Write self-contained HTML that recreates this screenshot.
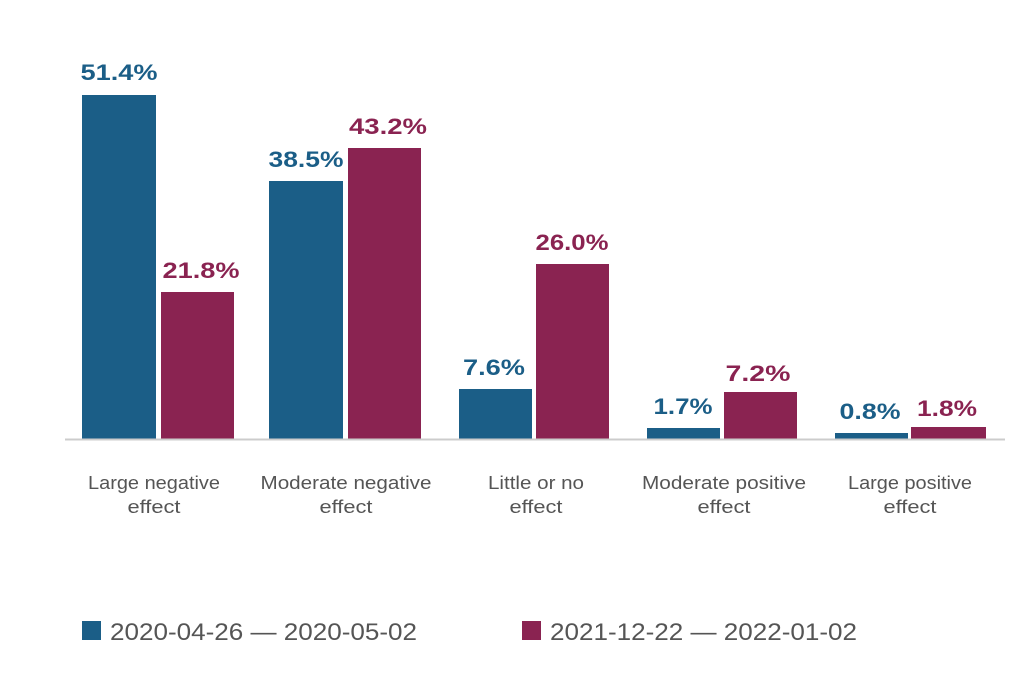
<!DOCTYPE html>
<html><head><style>
body{margin:0;background:#fff;}
svg text{font-family:"Liberation Sans",sans-serif;}
</style></head><body>
<svg width="1024" height="679" viewBox="0 0 1024 679">
<rect width="1024" height="679" fill="#fff"/>
<g fill="#1b5e87">
<rect x="82" y="95" width="74" height="344"/>
<rect x="269" y="181" width="74" height="258"/>
<rect x="459" y="389" width="73" height="50"/>
<rect x="647" y="428" width="73" height="11"/>
<rect x="835" y="433" width="73" height="6"/>
</g>
<g fill="#8a2351">
<rect x="161" y="292" width="73" height="147"/>
<rect x="348" y="148" width="73" height="291"/>
<rect x="536" y="264" width="73" height="175"/>
<rect x="724" y="392" width="73" height="47"/>
<rect x="911" y="427" width="75" height="12"/>
</g>
<line x1="65" y1="439.5" x2="1005" y2="439.5" stroke="#ccc" stroke-width="2"/>
<g font-size="22" font-weight="bold" text-anchor="middle" fill="#1b5e87" lengthAdjust="spacingAndGlyphs">
<text x="119" y="80" textLength="77" lengthAdjust="spacingAndGlyphs">51.4%</text>
<text x="306" y="167" textLength="75" lengthAdjust="spacingAndGlyphs">38.5%</text>
<text x="494" y="375" textLength="62" lengthAdjust="spacingAndGlyphs">7.6%</text>
<text x="683" y="414" textLength="59" lengthAdjust="spacingAndGlyphs">1.7%</text>
<text x="870" y="419" textLength="61" lengthAdjust="spacingAndGlyphs">0.8%</text>
</g>
<g font-size="22" font-weight="bold" text-anchor="middle" fill="#8a2351">
<text x="201" y="278" textLength="77" lengthAdjust="spacingAndGlyphs">21.8%</text>
<text x="388" y="134" textLength="78" lengthAdjust="spacingAndGlyphs">43.2%</text>
<text x="572" y="250" textLength="73" lengthAdjust="spacingAndGlyphs">26.0%</text>
<text x="758" y="381" textLength="65" lengthAdjust="spacingAndGlyphs">7.2%</text>
<text x="947" y="416" textLength="60" lengthAdjust="spacingAndGlyphs">1.8%</text>
</g>
<g font-size="18" text-anchor="middle" fill="#555">
<text x="154" y="489" textLength="132" lengthAdjust="spacingAndGlyphs">Large negative</text><text x="154" y="513" textLength="53" lengthAdjust="spacingAndGlyphs">effect</text>
<text x="346" y="489" textLength="171" lengthAdjust="spacingAndGlyphs">Moderate negative</text><text x="346" y="513" textLength="53" lengthAdjust="spacingAndGlyphs">effect</text>
<text x="536" y="489" textLength="96" lengthAdjust="spacingAndGlyphs">Little or no</text><text x="536" y="513" textLength="53" lengthAdjust="spacingAndGlyphs">effect</text>
<text x="724" y="489" textLength="164" lengthAdjust="spacingAndGlyphs">Moderate positive</text><text x="724" y="513" textLength="53" lengthAdjust="spacingAndGlyphs">effect</text>
<text x="910" y="489" textLength="124" lengthAdjust="spacingAndGlyphs">Large positive</text><text x="910" y="513" textLength="53" lengthAdjust="spacingAndGlyphs">effect</text>
</g>
<rect x="82" y="621" width="19" height="19" fill="#1b5e87"/>
<rect x="522" y="621" width="19" height="19" fill="#8a2351"/>
<g font-size="24" fill="#555">
<text x="110" y="640" textLength="307" lengthAdjust="spacingAndGlyphs">2020-04-26 — 2020-05-02</text>
<text x="550" y="640" textLength="307" lengthAdjust="spacingAndGlyphs">2021-12-22 — 2022-01-02</text>
</g>
</svg>
</body></html>
